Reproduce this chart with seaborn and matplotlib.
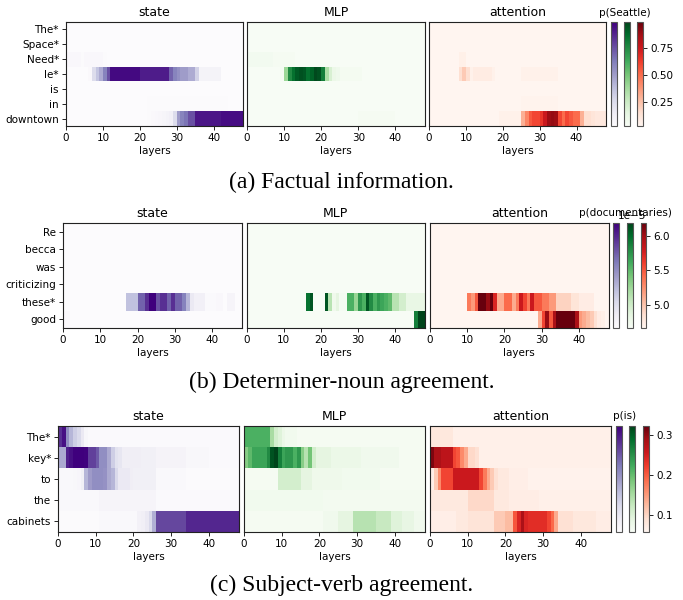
import numpy as np
import matplotlib
matplotlib.use("Agg")
import matplotlib.pyplot as plt
import seaborn as sns
from matplotlib.colors import Normalize
from matplotlib.cm import ScalarMappable

# ---------------- (a) factual information: p(Seattle) ----------------
tokens_a = ["The*", "Space*", "Need*", "le*", "is", "in", "downtown"]
state_a = [
    [0.027] * 48,
    [0.027] * 48,
    [0.06] * 4 + [0.04] + [0.06] * 5 + [0.04] + [0.027] * 37,
    [0.027] * 6 + [0.05, 0.25, 0.35, 0.45, 0.6, 0.75] + [0.96] * 8 + [0.9] * 8
    + [0.7, 0.6, 0.55, 0.5, 0.5, 0.45, 0.45] + [0.3] + [0.1] * 6 + [0.027] * 6,
    [0.027] * 48,
    [0.027] * 22 + [0.035] * 8 + [0.04] * 14 + [0.027] * 4,
    [0.027] * 22 + [0.04, 0.05, 0.06, 0.07, 0.08, 0.1, 0.12] + [0.25] + [0.5]
    + [0.6, 0.65] + [0.75, 0.75] + [0.92] * 7 + [0.95] * 6,
]
mlp_a = [
    [0.027] * 48,
    [0.027] * 48,
    [0.06] * 7 + [0.045] * 6 + [0.027] * 35,
    [0.027] * 9 + [0.04] + [0.4, 0.75, 0.85, 0.92, 0.95, 0.93, 0.85, 0.9, 0.97, 0.95,
                            0.8, 0.35, 0.2, 0.1, 0.08] + [0.05] * 6 + [0.027] * 17,
    [0.027] * 48,
    [0.027] * 48,
    [0.027] * 30 + [0.045] * 10 + [0.027] * 8,
]
attn_a = [
    [0.027] * 48,
    [0.027] * 48,
    [0.027] * 8 + [0.06, 0.06] + [0.027] * 38,
    [0.027] * 8 + [0.15, 0.22, 0.15, 0.05] + [0.08] * 5 + [0.05] + [0.027] * 7
    + [0.05] * 10 + [0.027] * 13,
    [0.027] * 48,
    [0.027] * 25 + [0.04] * 10 + [0.027] * 13,
    [0.027] * 19 + [0.05] * 6 + [0.3, 0.42, 0.55, 0.6, 0.6, 0.65, 0.75, 0.88, 0.9, 0.88,
                                  0.6, 0.5, 0.6, 0.55, 0.5, 0.5, 0.3, 0.15, 0.15, 0.12,
                                  0.1, 0.1, 0.1],
]
range_a = (0.027, 0.988)
ticks_a = [0.25, 0.50, 0.75]

# ---------------- (b) determiner-noun: p(documentaries), in units of 1e-5 ----------------
tokens_b = ["Re", "becca", "was", "criticizing", "these*", "good"]
state_b = [
    [4.66] * 48,
    [4.66] * 48,
    [4.66] * 48,
    [4.66] * 48,
    [4.66] * 17 + [5.20] * 3 + [5.73] * 2 + [5.96] + [6.19] * 2 + [5.81] + [5.96] * 2
    + [5.73] + [5.96] + [5.73] * 2 + [5.58] + [5.27] + [4.89, 4.81, 4.81, 4.81]
    + [4.69] * 3 + [4.71] * 2 + [4.66] + [4.75] * 2 + [4.66] * 2,
    [4.70] * 2 + [4.66] * 46,
]
mlp_b = [
    [4.66] * 48,
    [4.66] * 48,
    [4.66] * 48,
    [4.66] * 48,
    [4.66] * 16 + [5.96, 6.11] + [4.66] * 3
    + [6.11, 5.12, 4.74, 4.84, 4.69, 4.69, 5.58, 5.58, 5.27, 5.73, 5.58, 6.11, 5.81,
       5.58, 5.73, 5.65, 5.58, 5.50, 5.12, 5.12, 4.97, 4.97] + [4.81] * 5,
    [4.70] + [4.66] * 44 + [5.88, 6.19, 6.19],
]
attn_b = [
    [4.66] * 48,
    [4.66] * 48,
    [4.66] * 48,
    [4.66] * 48,
    [4.66] * 10 + [5.35, 5.20, 5.50, 6.19, 6.19, 6.04, 6.19, 5.73, 5.12, 5.12, 5.42, 5.42,
                   5.12, 5.35, 5.81, 5.58, 5.35, 5.81, 5.50, 5.50, 5.35, 5.35, 5.20, 5.20]
    + [4.92] * 4 + [4.81] * 2 + [4.74] * 4 + [4.66] * 4,
    [4.66] * 29 + [5.12, 5.58, 6.04, 5.50, 5.96, 6.19, 6.19, 6.19, 6.19, 6.19, 5.96, 5.20,
                   5.12, 5.04, 4.97, 4.84, 4.74, 4.71] + [4.66],
]
unit_b = 1e-5
range_b = (4.66, 6.19)
ticks_b = [5.0, 5.5, 6.0]

# ---------------- (c) subject-verb agreement: p(is) ----------------
tokens_c = ["The*", "key*", "to", "the", "cabinets"]
state_c = [
    [0.283, 0.310, 0.204, 0.164, 0.138, 0.124, 0.098, 0.071] + [0.063] * 40,
    [0.177, 0.177, 0.297, 0.310, 0.323, 0.323, 0.323, 0.320, 0.270, 0.270, 0.250, 0.204,
     0.204, 0.177, 0.138, 0.111, 0.104] + [0.090] * 5 + [0.085] * 4 + [0.077] * 8
    + [0.069] * 6 + [0.063] * 8,
    [0.066] * 4 + [0.069, 0.072, 0.085, 0.164, 0.191, 0.204, 0.204, 0.204, 0.200, 0.177,
                   0.164, 0.124, 0.098, 0.098, 0.098, 0.090] + [0.085] * 6 + [0.066] * 8
    + [0.061] * 14,
    [0.066] * 11 + [0.074] * 15 + [0.063] * 22,
    [0.061] * 11 + [0.066] * 10 + [0.082, 0.086, 0.098, 0.124, 0.170] + [0.265] * 8
    + [0.290] * 14,
]
mlp_c = [
    [0.217] * 7 + [0.151, 0.111, 0.098, 0.079, 0.069, 0.069, 0.069] + [0.063] * 34,
    [0.177, 0.204, 0.230, 0.230, 0.230, 0.230, 0.257, 0.310, 0.323, 0.270, 0.230, 0.244,
     0.244, 0.217, 0.244, 0.177, 0.138, 0.191, 0.111, 0.090, 0.090, 0.090, 0.090]
    + [0.079] * 8 + [0.071] * 10 + [0.063] * 7,
    [0.063] * 9 + [0.111] * 6 + [0.090] * 3 + [0.074] * 8 + [0.069] * 10 + [0.063] * 12,
    [0.069] * 21 + [0.066] * 27,
    [0.063] * 21 + [0.071] * 4 + [0.090] * 4 + [0.138] * 6 + [0.124] * 4 + [0.098] * 3
    + [0.085] * 3 + [0.071] * 3,
]
attn_c = [
    [0.079] * 6 + [0.066] * 42,
    [0.310, 0.283, 0.283, 0.270, 0.270, 0.270, 0.217, 0.204, 0.164, 0.138, 0.098, 0.098,
     0.090] + [0.066] * 35,
    [0.071, 0.111, 0.164, 0.217, 0.217, 0.217, 0.257, 0.257, 0.257, 0.257, 0.257, 0.257,
     0.257, 0.217, 0.177, 0.138, 0.111, 0.090, 0.077, 0.077, 0.077] + [0.069] * 5
    + [0.063] * 22,
    [0.077] * 10 + [0.098] * 7 + [0.077] * 4 + [0.071] * 8 + [0.066] * 19,
    [0.069] * 7 + [0.077] * 3 + [0.085] * 7 + [0.111] * 3 + [0.124] * 2
    + [0.204, 0.244, 0.283, 0.244, 0.237, 0.237, 0.237, 0.237, 0.237, 0.217, 0.191, 0.138]
    + [0.090] * 4 + [0.079] * 6 + [0.071] * 4,
]
range_c = (0.058, 0.323)
ticks_c = [0.1, 0.2, 0.3]

kinds = ["state", "MLP", "attention"]
cmaps = ["Purples", "Greens", "Reds"]
layer_ticks = [0, 10, 20, 30, 40]

rows = [
    dict(tokens=tokens_a, parts=[state_a, mlp_a, attn_a], rng=range_a, ticks=ticks_a,
         unit=1.0, label="p(Seattle)", caption="(a) Factual information.",
         top=22, bot=126, panels=[(66, 243), (247, 425), (429, 606)],
         cbars=[(611, 617), (624, 630), (637, 643)], label_y=13, cap_y=182),
    dict(tokens=tokens_b, parts=[state_b, mlp_b, attn_b], rng=range_b, ticks=ticks_b,
         unit=unit_b, label="p(documentaries)", caption="(b) Determiner-noun agreement.",
         top=223, bot=328, panels=[(63, 242), (246.5, 425), (430, 608.5)],
         cbars=[(613, 619), (627, 633), (641, 646)], label_y=213, cap_y=382),
    dict(tokens=tokens_c, parts=[state_c, mlp_c, attn_c], rng=range_c, ticks=ticks_c,
         unit=1.0, label="p(is)", caption="(c) Subject-verb agreement.",
         top=426, bot=532, panels=[(58, 239), (244, 425), (430, 611)],
         cbars=[(616, 622), (629, 635), (643, 649)], label_y=416, cap_y=585),
]

plt.rcParams.update({
    "font.size": 7.5,
    "xtick.major.size": 2.6,
    "ytick.major.size": 2.6,
    "xtick.major.width": 0.6,
    "ytick.major.width": 0.6,
    "axes.linewidth": 0.8,
    "xtick.major.pad": 2.5,
    "ytick.major.pad": 2.5,
})

W, H = 683, 600
fig = plt.figure(figsize=(W / 100, H / 100), dpi=100)


def box(x0, x1, top, bot):
    return [x0 / W, 1 - bot / H, (x1 - x0) / W, (bot - top) / H]


for row in rows:
    vmin, vmax = row["rng"]
    vmin, vmax = vmin * row["unit"], vmax * row["unit"]
    for i, (kind, cmap, part, (x0, x1)) in enumerate(zip(kinds, cmaps, row["parts"], row["panels"])):
        ax = fig.add_axes(box(x0, x1, row["top"], row["bot"]))
        data = np.array(part) * row["unit"]
        sns.heatmap(data, ax=ax, cmap=cmap, vmin=vmin, vmax=vmax, cbar=False,
                    xticklabels=False, yticklabels=False)
        for s in ax.spines.values():
            s.set_visible(True)
            s.set_linewidth(0.8)
            s.set_color("#222222")
        ax.set_xticks(layer_ticks)
        ax.set_xticklabels([str(t) for t in layer_ticks], rotation=0, fontsize=7.5)
        ax.set_xlabel("layers", fontsize=7.5, labelpad=2)
        ax.set_title(kind, fontsize=9, pad=4)
        if i == 0:
            ax.set_yticks(np.arange(len(row["tokens"])) + 0.5)
            ax.set_yticklabels(row["tokens"], rotation=0, fontsize=7.5)
        else:
            ax.set_yticks([])
        ax.tick_params(length=2.6, width=0.6)

    norm = Normalize(vmin=vmin, vmax=vmax)
    for j, (cmap, (c0, c1)) in enumerate(zip(cmaps, row["cbars"])):
        cax = fig.add_axes(box(c0, c1, row["top"], row["bot"]))
        cb = fig.colorbar(ScalarMappable(norm=norm, cmap=cmap), cax=cax)
        cb.outline.set_linewidth(0.8)
        cb.outline.set_edgecolor("#555555")
        if j < 2:
            cb.set_ticks([])
        else:
            cb.set_ticks([t * row["unit"] for t in row["ticks"]])
            cax.tick_params(labelsize=7.5, length=2.6, width=0.6)
            cax.yaxis.get_offset_text().set_fontsize(7.5)
    fig.text(625 / W, 1 - row["label_y"] / H, row["label"], ha="center", va="center",
             fontsize=7.5)
    fig.text(0.5, 1 - row["cap_y"] / H, row["caption"], ha="center", va="center",
             fontsize=17, family="Liberation Serif")

fig.savefig("out.png", dpi=100)
